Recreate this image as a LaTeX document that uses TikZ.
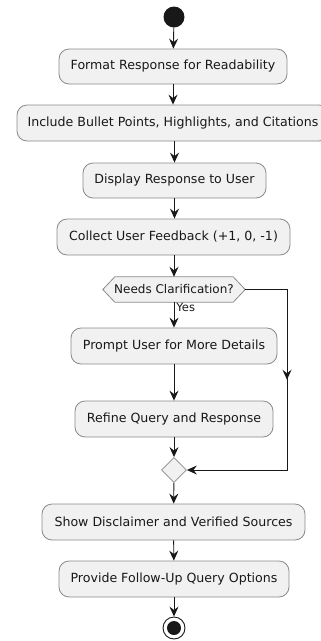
\documentclass[tikz,border=0pt]{standalone}
\usepackage{fontspec}
\setmainfont{DejaVu Sans}
\usetikzlibrary{arrows.meta,shapes.geometric,calc}
\definecolor{boxfill}{HTML}{F1F1F1}
\definecolor{ink}{HTML}{181818}
\definecolor{boxline}{HTML}{8A8A8A}
\begin{document}
\begin{tikzpicture}[x=1pt,y=-1pt,
  act/.style={draw=boxline, fill=boxfill, rounded corners=10pt, line width=0.8pt,
    inner sep=0pt, font=\fontsize{12.6}{15}\selectfont, text=ink},
  flow/.style={draw=ink, line width=0.9pt,
    -{Stealth[length=10pt,width=9pt,inset=3.5pt]}},
]
\useasboundingbox (0,0) rectangle (321,641);

% start marker
\node[circle, fill=ink, minimum size=21pt, inner sep=0pt] (start) at (174,17) {};

% activities
\node[act, minimum width=228pt, minimum height=35pt] (fmt) at (173,66.5) {Format Response for Readability};
\node[act, minimum width=312pt, minimum height=36pt] (inc) at (173,123) {Include Bullet Points, Highlights, and Citations};
\node[act, minimum width=183pt, minimum height=35pt] (disp) at (174.5,180.5) {Display Response to User};
\node[act, minimum width=233pt, minimum height=36pt] (coll) at (173.5,237) {Collect User Feedback (+1, 0, -1)};

% decision (hexagon drawn around the label node)
\node[inner sep=0pt, minimum width=118pt, minimum height=25pt] (q) at (174,289.5) {};
\coordinate (qW) at ($(q.west)+(-12,0)$);
\coordinate (qE) at ($(q.east)+(12,0)$);
\draw[draw=boxline, fill=boxfill, line width=0.8pt]
  (q.north west) -- (q.north east) -- (qE) -- (q.south east)
  -- (q.south west) -- (qW) -- cycle;
\node[inner sep=0pt, font=\fontsize{12}{14}\selectfont, text=ink] at (q) {Needs Clarification?};

\node[act, minimum width=206pt, minimum height=36pt] (prompt) at (174,346) {Prompt User for More Details};
\node[act, minimum width=198pt, minimum height=36pt] (refine) at (174,419) {Refine Query and Response};

% merge
\node[diamond, draw=boxline, fill=boxfill, line width=0.8pt, inner sep=0pt,
  minimum width=25pt, minimum height=25pt] (m) at (174,470) {};

\node[act, minimum width=263pt, minimum height=36pt] (disc) at (173.5,522) {Show Disclaimer and Verified Sources};
\node[act, minimum width=230pt, minimum height=36pt] (opts) at (174,579) {Provide Follow-Up Query Options};

% end marker
\node[circle, draw=ink, fill=white, line width=0.9pt, minimum size=22pt, inner sep=0pt] (stop) at (174,628) {};
\node[circle, fill=ink, minimum size=14pt, inner sep=0pt] at (stop) {};

% connectors
\draw[flow] (start) -- (fmt);
\draw[flow] (fmt) -- (inc.north -| fmt);
\draw[flow] (inc.south -| disp) -- (disp);
\draw[flow] (disp) -- (coll.north -| disp);
\draw[flow] (coll.south -| q) -- (q);
\draw[flow] (q) -- node[pos=0.2, right=2pt, font=\fontsize{11.5}{13}\selectfont, text=ink, inner sep=0pt] {Yes} (prompt);
\draw[flow] (prompt) -- (refine);
\draw[flow] (refine) -- (m);

\coordinate (rt) at (287,289.5);
\coordinate (rb) at (287,470);
\draw[flow] (qE) -- (rt) -- (rb) -- (m.east);
\draw[flow] (rt) -- ($(rt)!0.5!(rb)$);

\draw[flow] (m) -- (disc);
\draw[flow] (disc) -- (opts);
\draw[flow] (opts) -- (stop);
\end{tikzpicture}
\end{document}
